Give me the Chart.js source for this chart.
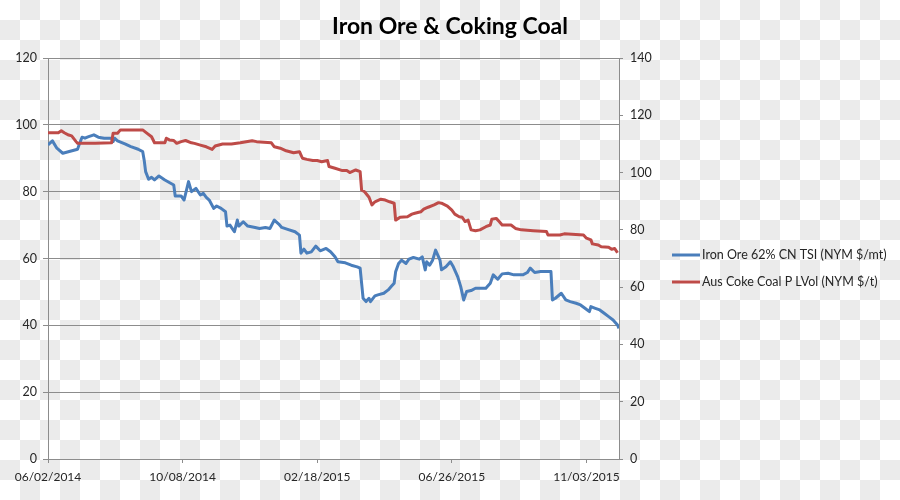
<!DOCTYPE html>
<html>
<head>
<meta charset="utf-8">
<script src="https://cdn.jsdelivr.net/npm/chart.js@4"></script>
<style>
    html, body {
        margin: 0;
        padding: 0;
        width: 900px;
        height: 500px;
        overflow: hidden;
    }
    body {
        background-color: #ffffff;
        background-image: conic-gradient(#ebebeb 0 25%, #ffffff 0 50%, #ebebeb 0 75%, #ffffff 0);
        background-size: 40px 40px;
        background-position: 0 0;
    }
    #wrap {
        position: relative;
        width: 900px;
        height: 500px;
    }
</style>
</head>
<body>
<div id="wrap"><canvas id="oreChart"></canvas></div>
<script>
// x values are trading days counted from 06/02/2014
const xTickIndex = [0, 91, 182, 273, 364];
const xTickLabels = ['06/02/2014', '10/08/2014', '02/18/2015', '06/26/2015', '11/03/2015'];
const xMax = 386;

const ironIdx = [0, 3, 6, 10, 20, 21, 23, 25, 27, 31, 34, 38, 43, 44, 45, 47, 52, 56, 61, 64,
    65, 66, 68, 70, 72, 75, 79, 85, 86, 90, 92, 95, 97, 100, 103, 105, 107, 109, 112, 114,
    117, 120, 121, 123, 126, 128, 129, 132, 135, 140, 143, 147, 150, 153, 156, 158, 162, 167, 170, 171,
    173, 175, 178, 181, 184, 188, 191, 194, 196, 201, 205, 209, 211, 213, 215, 217, 218, 221, 223, 227,
    230, 232, 234, 235, 237, 239, 242, 244, 247, 251, 253, 255, 256, 258, 260, 262, 265, 266, 269, 272,
    274, 277, 279, 281, 283, 286, 289, 296, 297, 299, 301, 304, 307, 311, 315, 321, 324, 326, 329, 333,
    340, 341, 343, 347, 350, 353, 357, 360, 363, 366, 367, 370, 373, 376, 379, 382, 385, 386];
const ironVals = [94.0, 95.2, 93.0, 91.5, 92.7, 94.0, 96.3, 96.0, 96.4, 97.0, 96.3, 96.0, 96.0, 95.0, 96.0, 95.2, 94.3, 93.5, 92.7, 92.0,
    89.5, 86.0, 83.7, 84.3, 83.5, 84.7, 83.5, 82.0, 78.7, 78.7, 77.5, 83.0, 80.0, 81.0, 79.0, 79.5, 78.3, 77.5, 75.0, 75.7,
    75.0, 74.0, 69.7, 70.0, 68.0, 71.5, 69.7, 71.0, 69.7, 69.3, 69.0, 69.3, 69.0, 71.5, 70.3, 69.3, 68.7, 68.0, 67.0, 61.6,
    62.8, 61.6, 62.0, 63.7, 62.3, 63.0, 62.0, 60.5, 59.0, 58.7, 58.0, 57.5, 57.1, 48.1, 47.1, 48.1, 47.1, 48.8, 49.1, 49.6,
    50.6, 51.6, 52.6, 56.0, 58.5, 59.5, 58.5, 59.8, 60.3, 59.8, 60.5, 56.6, 59.0, 58.0, 59.5, 62.5, 59.5, 56.6, 57.5, 59.0,
    57.5, 54.5, 51.6, 47.6, 50.1, 50.4, 51.1, 51.1, 51.6, 52.6, 55.1, 53.8, 55.4, 55.6, 55.1, 55.1, 55.8, 57.1, 55.8, 56.1,
    56.1, 47.6, 48.1, 49.6, 47.6, 47.1, 46.6, 46.1, 45.1, 44.1, 45.6, 45.1, 44.6, 43.6, 42.6, 41.6, 40.1, 39.1];

const coalIdx = [0, 7, 9, 11, 14, 16, 19, 20, 32, 43, 44, 47, 49, 64, 67, 70, 72, 79, 80, 82,
    85, 87, 90, 93, 97, 99, 103, 107, 111, 113, 118, 124, 130, 138, 141, 151, 153, 157, 161, 166,
    170, 172, 175, 179, 182, 185, 189, 190, 194, 199, 202, 204, 208, 211, 212, 214, 217, 219, 221, 225,
    228, 231, 234, 235, 238, 243, 246, 248, 252, 254, 257, 261, 264, 266, 270, 273, 275, 278, 280, 282,
    284, 286, 289, 292, 296, 299, 300, 303, 305, 307, 313, 316, 320, 328, 337, 338, 346, 349, 362, 364,
    367, 368, 372, 374, 379, 381, 383, 385];
const coalVals = [113.9, 113.9, 114.6, 113.9, 113.1, 112.8, 110.8, 110.2, 110.2, 110.4, 113.7, 113.7, 114.9, 114.9, 113.7, 112.5, 110.4, 110.4, 112.0, 111.4,
    111.2, 110.2, 110.8, 111.2, 110.4, 110.2, 109.6, 109.0, 108.1, 109.3, 110.0, 110.0, 110.4, 111.1, 110.8, 110.4, 109.0, 108.5, 107.6, 106.9,
    107.3, 105.0, 104.6, 104.2, 104.2, 103.8, 104.2, 102.1, 101.5, 100.7, 100.7, 100.0, 100.9, 100.3, 93.9, 93.3, 91.4, 88.7, 89.8, 90.7,
    90.4, 89.8, 89.3, 83.4, 84.4, 84.6, 85.5, 85.8, 86.3, 87.2, 87.9, 88.7, 89.5, 89.3, 88.3, 86.9, 85.5, 84.6, 84.4, 82.9,
    83.4, 80.0, 79.7, 80.0, 81.1, 81.7, 83.7, 84.0, 82.9, 81.7, 81.7, 80.5, 80.0, 79.7, 79.4, 78.2, 78.2, 78.6, 78.2, 77.1,
    76.5, 75.1, 74.7, 74.1, 73.9, 73.2, 73.5, 72.0];

const chartTitle = 'Iron Ore & Coking Coal';
const ironLabel = 'Iron Ore 62% CN TSI (NYM $/mt)';
const coalLabel = 'Aus Coke Coal P LVol (NYM $/t)';

const FONT = 'Lato, "Open Sans", sans-serif';
const GRID = '#8c8c8c';
const TEXT = '#262626';

function toPoints(xs, ys) {
    return xs.map((x, i) => ({ x: x, y: ys[i] }));
}

// title centred on the whole picture and legend at the right, Excel style
const sideLegend = {
    id: 'sideLegend',
    afterDraw(chart) {
        const ctx = chart.ctx;
        const rows = [255, 282];
        ctx.save();
        ctx.textBaseline = 'middle';
        ctx.textAlign = 'center';
        ctx.fillStyle = '#000000';
        ctx.font = 'bold 23px ' + FONT;
        ctx.fillText(chartTitle, 450, 27);

        ctx.font = '12.5px ' + FONT;
        ctx.textAlign = 'left';
        chart.data.datasets.forEach((ds, i) => {
            const y = rows[i];
            ctx.strokeStyle = ds.borderColor;
            ctx.lineWidth = 3;
            ctx.beginPath();
            ctx.moveTo(672, y);
            ctx.lineTo(700, y);
            ctx.stroke();
            ctx.fillStyle = TEXT;
            ctx.fillText(ds.label, 702, y);
        });
        ctx.restore();
    }
};

new Chart(document.getElementById('oreChart'), {
    type: 'line',
    data: {
        datasets: [
            {
                label: ironLabel,
                data: toPoints(ironIdx, ironVals),
                borderColor: '#4a7ebb',
                backgroundColor: '#4a7ebb',
                borderWidth: 3,
                pointRadius: 0,
                tension: 0,
                borderJoinStyle: 'round',
                yAxisID: 'y',
                order: 2
            },
            {
                label: coalLabel,
                data: toPoints(coalIdx, coalVals),
                borderColor: '#be4b48',
                backgroundColor: '#be4b48',
                borderWidth: 3,
                pointRadius: 0,
                tension: 0,
                borderJoinStyle: 'round',
                yAxisID: 'y1',
                order: 1
            }
        ]
    },
    options: {
        responsive: true,
        maintainAspectRatio: false,
        animation: false,
        layout: { padding: { left: 0, right: 241, top: 58, bottom: 0 } },
        scales: {
            x: {
                type: 'linear',
                min: 0,
                max: xMax,
                afterBuildTicks: axis => { axis.ticks = xTickIndex.map(v => ({ value: v })); },
                afterFit: axis => { axis.height = 41; },
                grid: { drawOnChartArea: false, drawTicks: true, tickLength: 4, color: GRID },
                border: { display: true, color: GRID },
                ticks: {
                    autoSkip: false,
                    maxRotation: 0,
                    padding: 7,
                    color: TEXT,
                    font: { family: FONT, size: 12 },
                    callback: value => xTickLabels[xTickIndex.indexOf(value)]
                }
            },
            y: {
                position: 'left',
                min: 0,
                max: 120,
                afterFit: axis => { axis.width = 48; },
                grid: { color: GRID, tickLength: 5 },
                border: { display: true, color: GRID },
                ticks: { stepSize: 20, padding: 6, color: TEXT, font: { family: FONT, size: 12.5 } }
            },
            y1: {
                position: 'right',
                min: 0,
                max: 140,
                afterFit: axis => { axis.width = 40; },
                grid: { drawOnChartArea: false, color: GRID, tickLength: 4 },
                border: { display: true, color: GRID },
                ticks: { stepSize: 20, padding: 7, color: TEXT, font: { family: FONT, size: 12.5 } }
            }
        },
        plugins: {
            legend: { display: false },
            tooltip: { enabled: false },
            title: { display: false }
        }
    },
    plugins: [sideLegend]
});
</script>
</body>
</html>
